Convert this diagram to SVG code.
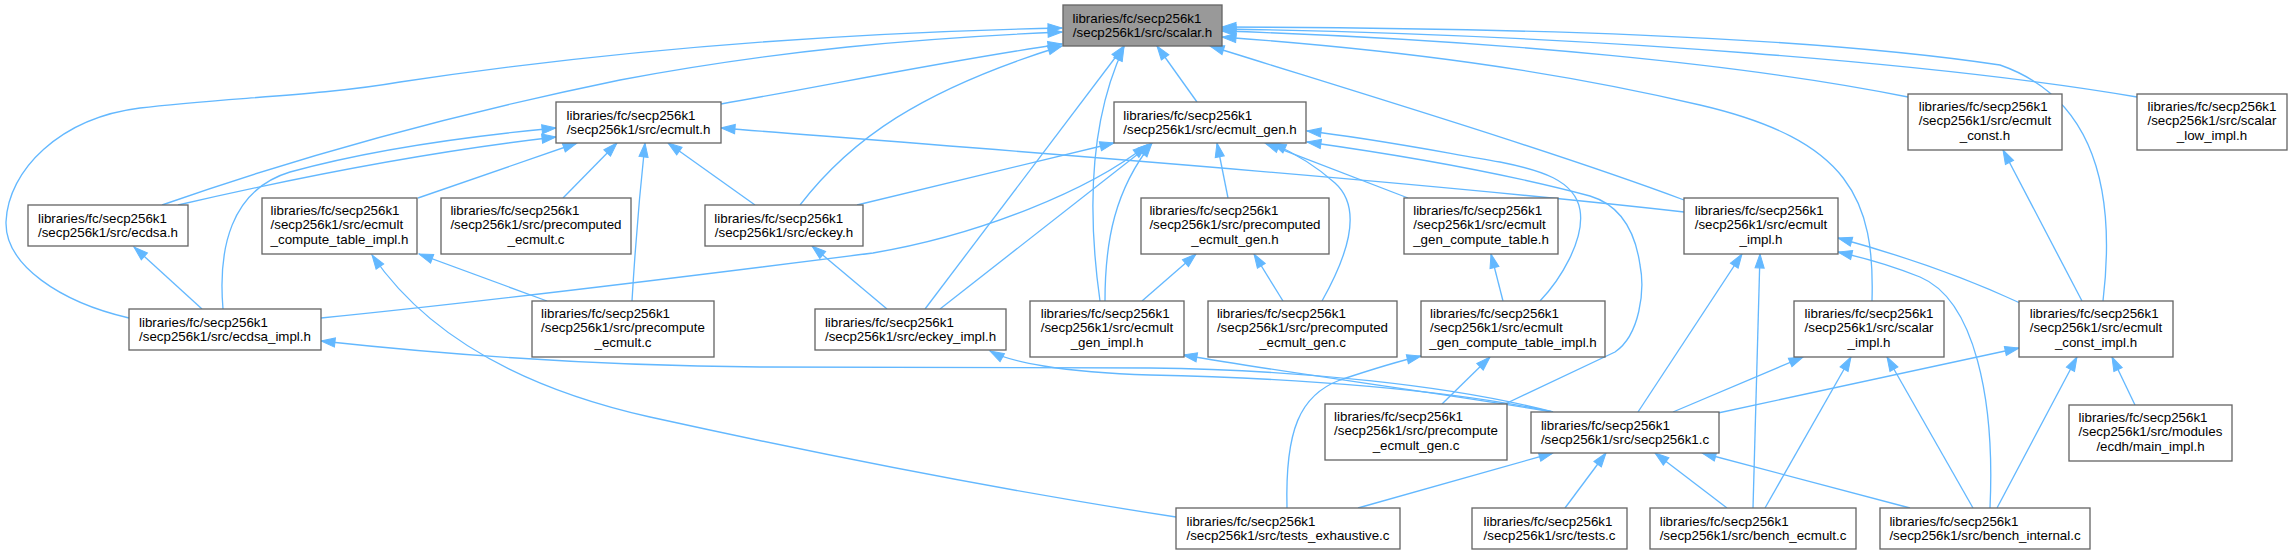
<svg xmlns="http://www.w3.org/2000/svg" width="2292" height="555" viewBox="0 0 2292 555">
<defs>
<marker id="arr" markerUnits="userSpaceOnUse" markerWidth="16" markerHeight="12" refX="14" refY="5" orient="auto" viewBox="0 0 16 12" overflow="visible">
<path d="M0,0.4 L14,5 L0,9.6 z" fill="#63b8ff" stroke="#63b8ff" stroke-width="1"/>
</marker>
<style>
.n rect{fill:#fff;stroke:#666;stroke-width:1.33}
.root rect{fill:#999}
text{font-family:"Liberation Sans",Arial,Helvetica,sans-serif;font-size:13.33px;fill:#000}
.m{text-anchor:middle}
#edges path{fill:none;stroke:#63b8ff;stroke-width:1.33;marker-end:url(#arr)}
</style>
</defs>
<rect width="2292" height="555" fill="#fff"/>
<g id="edges">
<path d="M129,318 C60,302 5,265 6,222 C8,170 60,118 140,108 C220,98 320,96 400,82 C560,58 780,34 1062,28"/>
<path d="M162,205 C290,160 450,115 620,80 C780,50 920,38 1062,32"/>
<path d="M178,205 C260,186 400,155 556,137"/>
<path d="M223,309 C218,250 230,190 290,172 C370,150 460,137 556,128"/>
<path d="M202,309 L134,247"/>
<path d="M321,318 C500,300 700,275 873,253 C980,235 1090,190 1147,145"/>
<path d="M721,104 C830,85 950,60 1062,44"/>
<path d="M800,205 C850,140 920,90 1062,46"/>
<path d="M755,205 L668,143"/>
<path d="M857,205 L1114,143"/>
<path d="M887,309 L812,246"/>
<path d="M925,309 L1124,46"/>
<path d="M940,309 L1152,143"/>
<path d="M1100,301 C1090,230 1085,130 1124,47"/>
<path d="M1105,301 C1105,240 1115,190 1152,143"/>
<path d="M1142,301 L1196,254"/>
<path d="M1197,102 L1157,46"/>
<path d="M1228,198 L1217,143"/>
<path d="M1283,301 L1254,254"/>
<path d="M1322,301 C1345,260 1365,210 1335,183 C1315,165 1292,152 1272,143"/>
<path d="M1408,198 L1265,143"/>
<path d="M1503,301 L1491,254"/>
<path d="M1540,301 C1560,280 1585,240 1580,210 C1575,180 1540,170 1500,162 C1430,150 1370,138 1307,131"/>
<path d="M1505,404 L1615,352 C1640,335 1645,290 1640,265 C1635,230 1620,205 1590,196 C1500,172 1400,155 1307,142"/>
<path d="M1442,404 L1490,357"/>
<path d="M1287,508 C1285,430 1300,395 1340,380 C1370,370 1395,362 1421,356"/>
<path d="M1176,517 C1000,490 800,450 650,417 C530,390 430,340 372,255"/>
<path d="M547,301 L419,254"/>
<path d="M632,301 C635,250 640,190 645,143"/>
<path d="M563,198 L617,143"/>
<path d="M418,198 L577,143"/>
<path d="M1684,212 C1400,180 1000,150 721,128"/>
<path d="M1684,200 C1550,150 1350,90 1210,46"/>
<path d="M1872,301 C1875,200 1850,140 1700,105 C1550,70 1400,50 1222,37"/>
<path d="M2103,301 C2115,200 2100,100 2000,65 C1800,35 1500,28 1222,27"/>
<path d="M1908,97 C1750,65 1500,40 1222,31"/>
<path d="M2137,97 C1950,65 1600,35 1222,29"/>
<path d="M2082,301 L2003,150"/>
<path d="M2020,303 C1960,275 1900,255 1838,238"/>
<path d="M1990,508 C1995,400 1975,300 1920,277 C1890,265 1865,258 1838,252"/>
<path d="M1638,412 L1742,254"/>
<path d="M1753,508 L1760,254"/>
<path d="M1673,412 L1803,357"/>
<path d="M1718,413 L2019,348"/>
<path d="M1997,508 L2077,357"/>
<path d="M2135,405 L2112,357"/>
<path d="M1765,508 L1851,357"/>
<path d="M1973,508 L1887,357"/>
<path d="M1565,508 L1606,453"/>
<path d="M1727,508 L1655,453"/>
<path d="M1910,508 L1702,453"/>
<path d="M1358,508 L1553,453"/>
<path d="M1553,412 C1450,385 1300,370 1150,368 C1000,367 850,367 760,367 C600,366 450,355 321,341"/>
<path d="M1553,412 C1450,390 1300,378 1150,375 C1060,372 1010,362 990,351"/>
<path d="M1553,412 C1420,390 1300,375 1183,355"/>
</g>
<g id="scalar_h" class="n root"><rect x="1063" y="5" width="159" height="41"/><text x="1072.5" y="22.5">libraries/fc/secp256k1</text><text class="m" x="1142.5" y="37">/secp256k1/src/scalar.h</text></g>
<g id="ecdsa_h" class="n"><rect x="28" y="205" width="160" height="41"/><text x="38" y="222.5">libraries/fc/secp256k1</text><text class="m" x="108" y="237">/secp256k1/src/ecdsa.h</text></g>
<g id="ecmult_h" class="n"><rect x="556" y="102" width="165" height="41"/><text x="566.6" y="119.5">libraries/fc/secp256k1</text><text class="m" x="638.5" y="134">/secp256k1/src/ecmult.h</text></g>
<g id="ecmult_compute_table_impl_h" class="n"><rect x="262" y="198" width="155" height="56"/><text x="270.6" y="214.5">libraries/fc/secp256k1</text><text x="270.6" y="229">/secp256k1/src/ecmult</text><text class="m" x="339.5" y="243.5">_compute_table_impl.h</text></g>
<g id="precomputed_ecmult_c" class="n"><rect x="441" y="198" width="190" height="56"/><text x="450.4" y="214.5">libraries/fc/secp256k1</text><text x="450.4" y="229">/secp256k1/src/precomputed</text><text class="m" x="536" y="243.5">_ecmult.c</text></g>
<g id="eckey_h" class="n"><rect x="705" y="205" width="158" height="41"/><text x="714.3" y="222.5">libraries/fc/secp256k1</text><text class="m" x="784" y="237">/secp256k1/src/eckey.h</text></g>
<g id="ecmult_gen_h" class="n"><rect x="1114" y="102" width="192" height="41"/><text x="1123.3" y="119.5">libraries/fc/secp256k1</text><text class="m" x="1210" y="134">/secp256k1/src/ecmult_gen.h</text></g>
<g id="precomputed_ecmult_gen_h" class="n"><rect x="1141" y="198" width="188" height="56"/><text x="1149.4" y="214.5">libraries/fc/secp256k1</text><text x="1149.4" y="229">/secp256k1/src/precomputed</text><text class="m" x="1235" y="243.5">_ecmult_gen.h</text></g>
<g id="ecmult_gen_compute_table_h" class="n"><rect x="1404" y="198" width="154" height="56"/><text x="1413.2" y="214.5">libraries/fc/secp256k1</text><text x="1413.2" y="229">/secp256k1/src/ecmult</text><text class="m" x="1481" y="243.5">_gen_compute_table.h</text></g>
<g id="ecmult_impl_h" class="n"><rect x="1684" y="198" width="154" height="56"/><text x="1694.7" y="214.5">libraries/fc/secp256k1</text><text x="1694.7" y="229">/secp256k1/src/ecmult</text><text class="m" x="1761" y="243.5">_impl.h</text></g>
<g id="ecmult_const_h" class="n"><rect x="1908" y="94" width="154" height="56"/><text x="1918.7" y="110.5">libraries/fc/secp256k1</text><text x="1918.7" y="125">/secp256k1/src/ecmult</text><text class="m" x="1985" y="139.5">_const.h</text></g>
<g id="scalar_low_impl_h" class="n"><rect x="2137" y="94" width="150" height="56"/><text x="2147.5" y="110.5">libraries/fc/secp256k1</text><text x="2147.5" y="125">/secp256k1/src/scalar</text><text class="m" x="2212" y="139.5">_low_impl.h</text></g>
<g id="ecdsa_impl_h" class="n"><rect x="129" y="309" width="192" height="41"/><text x="139" y="326.5">libraries/fc/secp256k1</text><text class="m" x="225" y="341">/secp256k1/src/ecdsa_impl.h</text></g>
<g id="precompute_ecmult_c" class="n"><rect x="532" y="301" width="182" height="56"/><text x="541.1" y="317.5">libraries/fc/secp256k1</text><text x="541.1" y="332">/secp256k1/src/precompute</text><text class="m" x="623" y="346.5">_ecmult.c</text></g>
<g id="eckey_impl_h" class="n"><rect x="815" y="309" width="191" height="41"/><text x="824.9" y="326.5">libraries/fc/secp256k1</text><text class="m" x="910.5" y="341">/secp256k1/src/eckey_impl.h</text></g>
<g id="ecmult_gen_impl_h" class="n"><rect x="1030" y="301" width="154" height="56"/><text x="1040.7" y="317.5">libraries/fc/secp256k1</text><text x="1040.7" y="332">/secp256k1/src/ecmult</text><text class="m" x="1107" y="346.5">_gen_impl.h</text></g>
<g id="precomputed_ecmult_gen_c" class="n"><rect x="1208" y="301" width="189" height="56"/><text x="1216.9" y="317.5">libraries/fc/secp256k1</text><text x="1216.9" y="332">/secp256k1/src/precomputed</text><text class="m" x="1302.5" y="346.5">_ecmult_gen.c</text></g>
<g id="ecmult_gen_compute_table_impl_h" class="n"><rect x="1421" y="301" width="184" height="56"/><text x="1430" y="317.5">libraries/fc/secp256k1</text><text x="1430" y="332">/secp256k1/src/ecmult</text><text class="m" x="1513" y="346.5">_gen_compute_table_impl.h</text></g>
<g id="precompute_ecmult_gen_c" class="n"><rect x="1325" y="404" width="182" height="56"/><text x="1334.1" y="420.5">libraries/fc/secp256k1</text><text x="1334.1" y="435">/secp256k1/src/precompute</text><text class="m" x="1416" y="449.5">_ecmult_gen.c</text></g>
<g id="scalar_impl_h" class="n"><rect x="1794" y="301" width="150" height="56"/><text x="1804.6" y="317.5">libraries/fc/secp256k1</text><text x="1804.6" y="332">/secp256k1/src/scalar</text><text class="m" x="1869" y="346.5">_impl.h</text></g>
<g id="ecmult_const_impl_h" class="n"><rect x="2019" y="301" width="154" height="56"/><text x="2029.7" y="317.5">libraries/fc/secp256k1</text><text x="2029.7" y="332">/secp256k1/src/ecmult</text><text class="m" x="2096" y="346.5">_const_impl.h</text></g>
<g id="secp256k1_c" class="n"><rect x="1531" y="412" width="188" height="41"/><text x="1540.9" y="429.5">libraries/fc/secp256k1</text><text class="m" x="1625" y="444">/secp256k1/src/secp256k1.c</text></g>
<g id="ecdh_main_impl_h" class="n"><rect x="2069" y="405" width="163" height="56"/><text x="2078.6" y="421.5">libraries/fc/secp256k1</text><text x="2078.6" y="436">/secp256k1/src/modules</text><text class="m" x="2150.5" y="450.5">/ecdh/main_impl.h</text></g>
<g id="tests_exhaustive_c" class="n"><rect x="1176" y="508" width="224" height="41"/><text x="1186.5" y="525.5">libraries/fc/secp256k1</text><text class="m" x="1288" y="540">/secp256k1/src/tests_exhaustive.c</text></g>
<g id="tests_c" class="n"><rect x="1472" y="508" width="155" height="41"/><text x="1483.5" y="525.5">libraries/fc/secp256k1</text><text class="m" x="1549.5" y="540">/secp256k1/src/tests.c</text></g>
<g id="bench_ecmult_c" class="n"><rect x="1650" y="508" width="206" height="41"/><text x="1659.7" y="525.5">libraries/fc/secp256k1</text><text class="m" x="1753" y="540">/secp256k1/src/bench_ecmult.c</text></g>
<g id="bench_internal_c" class="n"><rect x="1880" y="508" width="210" height="41"/><text x="1889.4" y="525.5">libraries/fc/secp256k1</text><text class="m" x="1985" y="540">/secp256k1/src/bench_internal.c</text></g>
</svg>
